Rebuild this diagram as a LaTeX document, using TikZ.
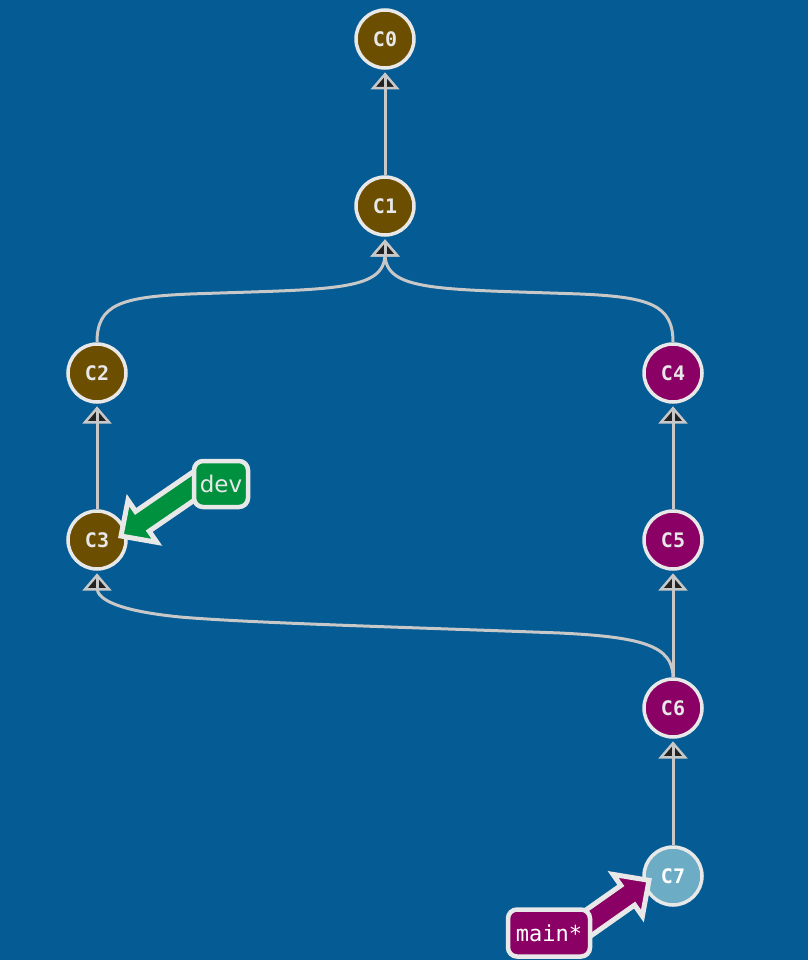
\documentclass[tikz,border=0pt]{standalone}
\usepackage{fontspec}
\newfontfamily\gmono{DejaVu Sans Mono}
\newfontfamily\gsans{DejaVu Sans}
\usetikzlibrary{calc}
\definecolor{bgc}{RGB}{5,91,148}
\definecolor{brownc}{RGB}{107,78,0}
\definecolor{magc}{RGB}{139,0,100}
\definecolor{lbluec}{RGB}{108,172,196}
\definecolor{greenc}{RGB}{0,145,62}
\definecolor{borderc}{RGB}{232,232,232}
\definecolor{edgec}{RGB}{200,200,200}
\definecolor{tipc}{RGB}{34,34,34}
\pgfdeclarelayer{fg}
\pgfsetlayers{main,fg}
\tikzset{
  commit/.style={circle, minimum size=58pt, inner sep=0pt, line width=3.5pt,
    draw=borderc, text=borderc, font=\gmono\bfseries\fontsize{20}{20}\selectfont},
  edgeline/.style={draw=edgec, line width=3pt},
  edgehead/.style={fill=tipc, draw=edgec, line width=2.5pt, line join=miter},
  tagbox/.style={rectangle, rounded corners=9pt, line width=4.5pt, draw=borderc,
    text=borderc, inner sep=0pt},
  bigarrow/.style={draw=borderc, line width=5pt, line join=miter}
}
% edge: path, target node
\newcommand\gedge[2]{%
  \draw[edgeline, shorten >=17pt] #1;
  \filldraw[edgehead] ($(#2.south)+(0,4.5)$) -- ++(-12,14) -- ++(24,0) -- cycle;
  \draw[edgeline] ($(#2.south)+(0,18.5)$) -- ($(#2.south)+(0,4.5)$);}
% big arrow: tail, tip, fill colour
\newcommand\gbig[3]{%
  \coordinate (gB) at ($(#2)!26pt!(#1)$);
  \filldraw[bigarrow, fill=#3]
    ($(#1)!12pt!-90:(#2)$) -- ($(gB)!12pt!-90:(#2)$) -- ($(gB)!25.5pt!-90:(#2)$)
    -- (#2) -- ($(gB)!25.5pt!90:(#2)$) -- ($(gB)!12pt!90:(#2)$)
    -- ($(#1)!12pt!90:(#2)$) -- cycle;}
\begin{document}
\begin{tikzpicture}[x=1pt,y=-1pt]
\fill[bgc] (0,0) rectangle (808,960);
\useasboundingbox (0,0) rectangle (808,960);
% commits
\node[commit, fill=brownc] (C0) at (385,39) {C0};
\node[commit, fill=brownc] (C1) at (385,206) {C1};
\node[commit, fill=brownc] (C2) at (97,373) {C2};
\node[commit, fill=brownc] (C3) at (97,540) {C3};
\node[commit, fill=magc] (C4) at (673,373) {C4};
\node[commit, fill=magc] (C5) at (673,540) {C5};
\node[commit, fill=magc] (C6) at (673,708) {C6};
\node[commit, fill=lbluec, text=white] (C7) at (673,876) {C7};
% edges
\gedge{(C1) -- (C0)}{C0}
\gedge{(C2.north) .. controls (97,305) and (120,297) .. (190,294) .. controls (330,289) and (385,292) .. (C1.south)}{C1}
\gedge{(C4.north) .. controls (673,305) and (650,297) .. (580,294) .. controls (440,289) and (385,292) .. (C1.south)}{C1}
\gedge{(C3) -- (C2)}{C2}
\gedge{(C5) -- (C4)}{C4}
\gedge{(C6) -- (C5)}{C5}
\gedge{(C7) -- (C6)}{C6}
\gedge{(C6.north) .. controls (673,645) and (640,637) .. (560,633) .. controls (400,627) and (250,623) .. (180,617) .. controls (120,611) and (97,600) .. (C3.south)}{C3}
% branch labels
\begin{pgfonlayer}{fg}
\node[tagbox, fill=greenc, minimum width=54pt, minimum height=46pt,
  font=\gsans\fontsize{23}{23}\selectfont] (dev) at (221,484) {dev};
\node[tagbox, fill=magc, text=white, minimum width=82pt, minimum height=47pt,
  font=\gmono\fontsize{22}{22}\selectfont] (main) at (549,933) {main*};
\end{pgfonlayer}
\coordinate (devtail) at ($(dev.center)+(-17,-5)$);
\coordinate (devtip) at ($(C3.center)+(24,-4)$);
\coordinate (maintail) at ($(main.center)+(18,5)$);
\coordinate (maintip) at ($(C7.center)+(-24,4.3)$);
\gbig{devtail}{devtip}{greenc}
\gbig{maintail}{maintip}{magc}
\end{tikzpicture}
\end{document}
